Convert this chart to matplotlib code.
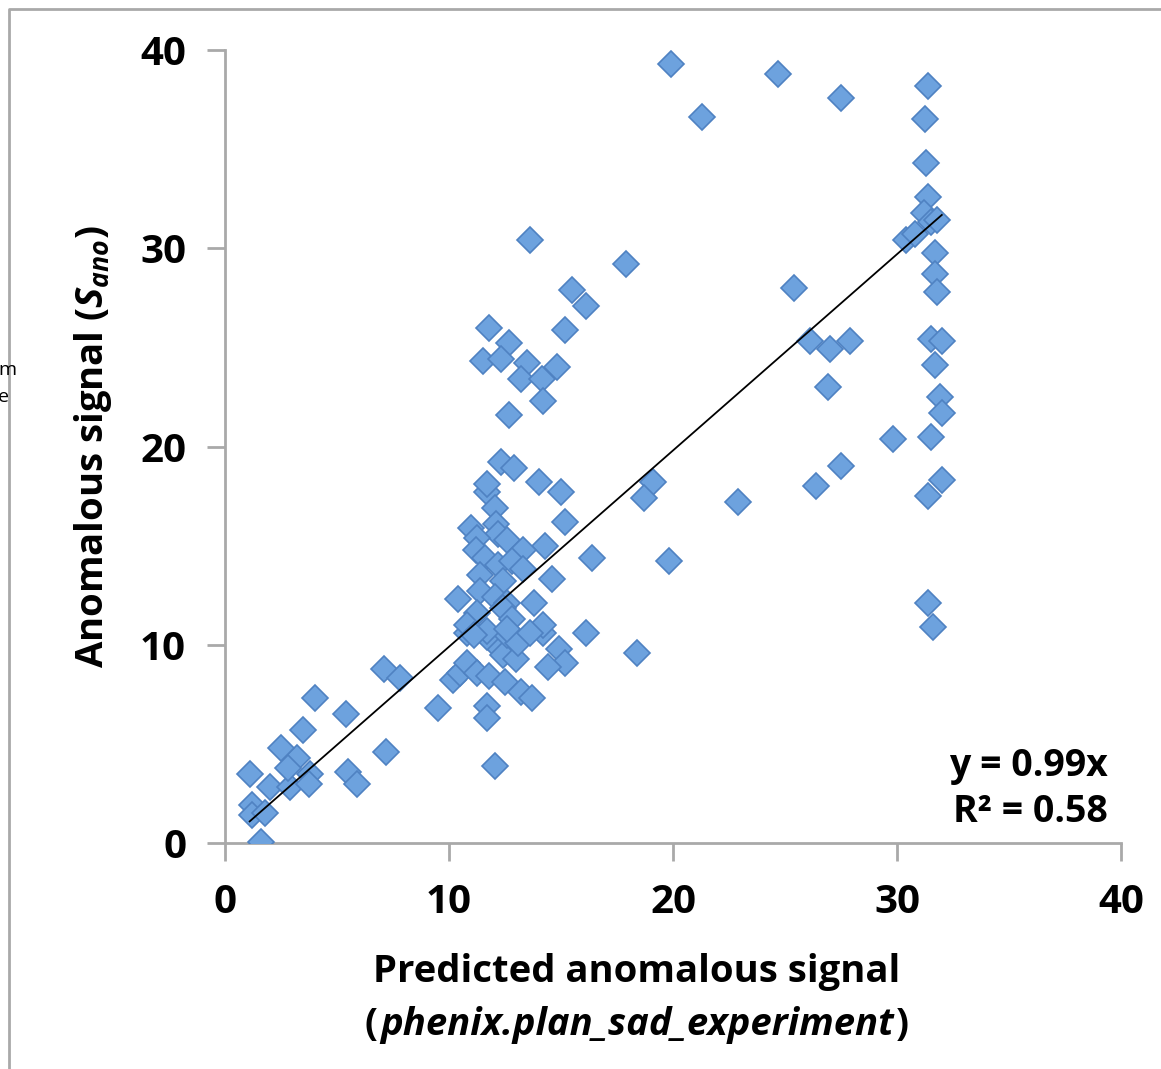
import matplotlib
matplotlib.use("Agg")
import matplotlib.pyplot as plt
from matplotlib.lines import Line2D
import numpy as np

plt.rcParams['font.family'] = ['Open Sans', 'DejaVu Sans']
plt.rcParams['mathtext.fontset'] = 'custom'
plt.rcParams['mathtext.rm'] = 'Open Sans:bold'
plt.rcParams['mathtext.it'] = 'Open Sans:bold:italic'
plt.rcParams['mathtext.bf'] = 'Open Sans:bold'

# predicted anomalous signal (x) vs measured anomalous signal (y)
predicted = [
    1.1, 1.2, 1.2, 1.8, 1.6, 2.0, 2.9, 3.2, 2.8, 2.5, 3.5, 4.0, 3.8, 3.75,
    5.4, 5.5, 5.9, 7.2, 7.1, 7.8, 9.5, 10.2, 10.5, 10.8, 11.25, 11.8, 12.5,
    13.2, 13.7, 11.7, 11.7, 12.05, 12.2, 12.4, 13.0, 10.8, 11.7, 12.6, 13.1,
    14.2, 14.9, 15.2, 14.4,
    11.7, 15.0, 12.05, 15.2, 11.0, 12.1, 12.2, 11.25, 12.6, 14.3, 13.3, 11.2,
    11.6, 12.2, 12.8, 13.3, 11.4, 12.4, 14.6, 11.4, 12.05, 10.4, 13.8, 12.6,
    11.25, 12.4, 12.8, 14.2, 10.8, 11.7, 12.6, 13.6, 11.1, 16.4, 16.1,
    11.8, 15.2, 12.7, 11.5, 12.3, 13.5, 13.2, 14.15, 14.8, 14.2, 12.7, 15.5,
    16.1, 13.6, 17.9, 12.3, 12.9, 11.7, 14.0, 19.1, 18.7, 19.8, 18.4, 22.9,
    19.9, 21.3, 24.7, 27.5, 25.4, 26.1, 27.0, 27.9, 26.9, 27.5, 26.4, 29.8,
    31.4, 31.25, 31.3, 31.4, 31.2, 30.4, 30.8, 31.5, 31.8, 31.7, 31.7, 31.8,
    31.5, 32.0, 31.7, 31.9, 32.0, 31.5, 32.0, 31.4, 31.4, 31.6,
]
observed = [
    3.5, 1.9, 1.4, 1.5, 0.05, 2.8, 2.8, 4.3, 3.8, 4.8, 5.7, 7.3, 3.5, 3.0,
    6.5, 3.6, 3.0, 4.6, 8.8, 8.3, 6.8, 8.2, 8.6, 9.1, 8.6, 8.4, 8.1,
    7.6, 7.3, 6.9, 6.3, 3.9, 9.9, 9.5, 9.3, 10.6, 10.4, 10.5, 10.1,
    10.6, 9.8, 9.1, 8.9,
    17.7, 17.7, 16.9, 16.2, 15.9, 16.1, 15.6, 15.4, 15.3, 15.0, 14.8, 14.8,
    14.4, 14.0, 14.2, 13.8, 13.5, 13.2, 13.3, 12.7, 12.4, 12.3, 12.1, 12.1,
    11.6, 11.85, 11.3, 11.0, 11.0, 10.7, 10.8, 10.6, 10.5, 14.4, 10.6,
    26.0, 25.9, 25.2, 24.3, 24.4, 24.2, 23.4, 23.4, 24.0, 22.3, 21.6, 27.9,
    27.1, 30.4, 29.2, 19.2, 18.9, 18.1, 18.2, 18.2, 17.4, 14.2, 9.6, 17.2,
    39.3, 36.6, 38.8, 37.6, 28.0, 25.3, 24.9, 25.3, 23.0, 19.0, 18.0, 20.4,
    38.2, 36.5, 34.3, 32.6, 31.8, 30.4, 30.7, 31.3, 31.4, 29.75, 28.7, 27.8,
    25.4, 25.3, 24.1, 22.5, 21.7, 20.5, 18.3, 17.5, 12.1, 10.9,
]
slope = 0.99
r_squared = 0.58
ticks = [0, 10, 20, 30, 40]

W, H = 1161, 1069
fig = plt.figure(figsize=(W / 100, H / 100), dpi=100)
ax = fig.add_axes([225 / W, 226 / H, (1121 - 225) / W, (843 - 50) / H])

gray = '#a9a9a9'
ax.plot(predicted, observed, linestyle='none', marker='D', markersize=13.5,
        markerfacecolor='#6da2de', markeredgecolor='#4f82c2',
        markeredgewidth=1.2, zorder=3)

xs = np.array([min(predicted), max(predicted)])
ax.plot(xs, slope * xs, color='black', linewidth=1.3, zorder=4)

ax.set_xlim(0, 40)
ax.set_ylim(0, 40)
ax.set_xticks(ticks)
ax.set_yticks(ticks)
for side in ['top', 'right']:
    ax.spines[side].set_visible(False)
for side in ['left', 'bottom']:
    ax.spines[side].set_color(gray)
    ax.spines[side].set_linewidth(2)
ax.tick_params(direction='out', length=13, width=2, color=gray,
               labelsize=29)
ax.tick_params(axis='x', pad=16)
ax.tick_params(axis='y', pad=15)
for lab in ax.get_xticklabels() + ax.get_yticklabels():
    lab.set_fontweight('bold')

ax.set_ylabel(r'Anomalous signal ($S_{ano}$)', fontsize=27.5,
              fontweight='bold')
ax.yaxis.set_label_coords(-0.124, 0.5)

# x label: two lines, second one italic inside plain brackets
cx = 637 / W
fig.text(cx, 1 - 972 / H, 'Predicted anomalous signal', fontsize=27.5,
         fontweight='bold', ha='center', va='center')
mid = fig.text(cx, 1 - 1025 / H, 'phenix.plan_sad_experiment', fontsize=27.5,
               fontweight='bold', fontstyle='italic', ha='center', va='center')
renderer = fig.canvas.get_renderer()
bb = mid.get_window_extent(renderer).transformed(fig.transFigure.inverted())
fig.text(bb.x0 - 0.002, 1 - 1025 / H, '(', fontsize=27.5, fontweight='bold',
         ha='right', va='center')
fig.text(bb.x1 + 0.002, 1 - 1025 / H, ')', fontsize=27.5, fontweight='bold',
         ha='left', va='center')

ax.text(0.985, 0.068, f'y = {slope}x\nR² = {r_squared}', transform=ax.transAxes,
        ha='right', va='center', fontsize=27, fontweight='bold',
        linespacing=1.3)

# slide border and cut-off text on the left
fig.add_artist(Line2D([9 / W, 9 / W, 1], [0, 1 - 9 / H, 1 - 9 / H],
                      color=gray, linewidth=2, transform=fig.transFigure))
fig.text(-2 / W, 1 - 370 / H, 'm', fontsize=14, va='center')
fig.text(-2 / W, 1 - 397 / H, 'e', fontsize=14, va='center')

fig.savefig('out.png', dpi=100)
